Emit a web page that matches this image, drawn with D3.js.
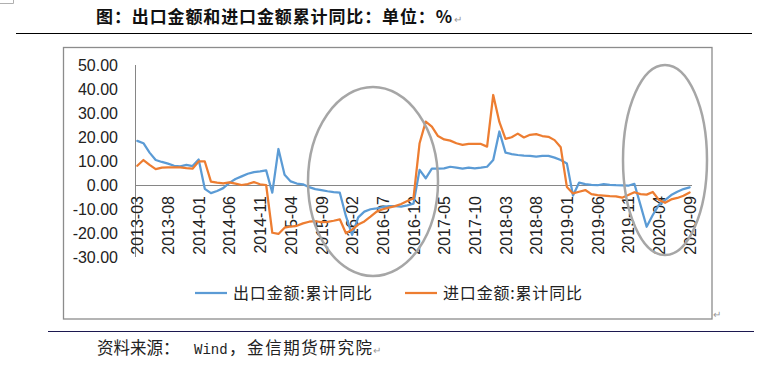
<!DOCTYPE html>
<html>
<head>
<meta charset="utf-8">
<script src="https://cdn.jsdelivr.net/npm/d3@7"></script>
<style>
  html, body { margin: 0; padding: 0; background: #fff; }
  svg { display: block; }
</style>
</head>
<body>
<svg id="chart" width="757" height="367"></svg>
<script>
// ---------------- data ----------------
const months = [
  "2013-03","2013-04","2013-05","2013-06","2013-07","2013-08","2013-09","2013-10","2013-11","2013-12",
  "2014-01","2014-02","2014-03","2014-04","2014-05","2014-06","2014-07","2014-08","2014-09","2014-10","2014-11","2014-12",
  "2015-01","2015-02","2015-03","2015-04","2015-05","2015-06","2015-07","2015-08","2015-09","2015-10","2015-11","2015-12",
  "2016-01","2016-02","2016-03","2016-04","2016-05","2016-06","2016-07","2016-08","2016-09","2016-10","2016-11","2016-12",
  "2017-01","2017-02","2017-03","2017-04","2017-05","2017-06","2017-07","2017-08","2017-09","2017-10","2017-11","2017-12",
  "2018-01","2018-02","2018-03","2018-04","2018-05","2018-06","2018-07","2018-08","2018-09","2018-10","2018-11","2018-12",
  "2019-01","2019-02","2019-03","2019-04","2019-05","2019-06","2019-07","2019-08","2019-09","2019-10","2019-11","2019-12",
  "2020-01","2020-02","2020-03","2020-04","2020-05","2020-06","2020-07","2020-08","2020-09"
];

const tickLabels = ["2013-03","2013-08","2014-01","2014-06","2014-11","2015-04","2015-09","2016-02",
  "2016-07","2016-12","2017-05","2017-10","2018-03","2018-08","2019-01","2019-06","2019-11","2020-04","2020-09"];

const yTicks = [50, 40, 30, 20, 10, 0, -10, -20, -30];

// 出口金额:累计同比
const exportYoY = [
  18.4, 17.4, 13.5, 10.4, 9.6, 8.9, 8.0, 7.8, 8.4, 7.9,
  10.6, -1.6, -3.4, -2.5, -1.3, 0.9, 2.5, 3.6, 4.7, 5.4, 5.7, 6.1,
  -3.2, 15.0, 4.3, 1.5, 0.6, 0.3, -0.9, -1.7, -2.1, -2.6, -3.0, -3.2,
  -13.0, -20.8, -13.5, -11.1, -10.1, -9.7, -9.2, -8.8, -8.8, -9.0, -8.5, -7.8,
  6.3, 2.8, 6.8, 6.8, 6.9, 7.6, 7.2, 6.8, 7.2, 6.9, 7.2, 7.6,
  10.4, 22.3, 13.5, 12.9, 12.5, 12.2, 12.1, 11.8, 12.1, 12.1, 11.4, 10.4,
  9.0, -4.4, 1.0, 0.4, 0.1, -0.1, 0.4, 0.1, -0.1, -0.2, -0.3, 0.5,
  -8.4, -17.4, -12.5, -8.3, -6.3, -4.2, -2.8, -1.7, -1.0
];

// 进口金额:累计同比
const importYoY = [
  8.0, 10.4, 8.4, 6.6, 7.2, 7.3, 7.3, 7.3, 7.0, 6.8,
  9.8, 9.8, 1.4, 1.0, 0.7, 1.1, 0.6, 0.0, 0.4, 1.2, 0.3, 0.0,
  -19.9, -20.4, -17.8, -17.3, -17.0, -16.0, -15.3, -15.1, -15.5, -15.4, -14.9, -14.3,
  -20.1, -18.6, -16.5, -15.2, -13.2, -11.1, -10.1, -9.4, -8.8, -7.9, -6.7, -5.6,
  17.4, 26.4, 24.3, 20.4, 19.0, 18.5, 17.4, 16.7, 17.1, 17.1, 17.1, 16.0,
  37.5, 26.3, 19.2, 19.9, 21.4, 19.8, 20.9, 21.2, 20.4, 20.1, 18.7, 15.7,
  -0.8, -3.5, -2.8, -2.1, -3.8, -4.2, -4.4, -4.6, -4.7, -5.3, -4.2, -3.0,
  -3.8, -4.0, -2.9, -6.2, -7.4, -6.0, -5.4, -4.5, -3.1
];

const seriesNames = ["出口金额:累计同比", "进口金额:累计同比"];
const seriesColors = ["#5b9bd5", "#ed7d31"];

// ---------------- drawing ----------------
const svg = d3.select("#chart");
svg.append("rect").attr("width", 757).attr("height", 367).attr("fill", "#fff");

const cjk = "'Noto Sans CJK SC', 'Noto Sans', sans-serif";
const latin = "'Liberation Sans', Arial, sans-serif";

// tiny corner mark
svg.append("path").attr("d", "M0,3.5H13.5V0").attr("fill", "none")
  .attr("stroke", "#b0b0b0").attr("stroke-width", 1);

// title
svg.append("text")
  .attr("x", 96).attr("y", 23)
  .attr("font-family", cjk).attr("font-weight", 700).attr("font-size", 17)
  .attr("fill", "#111")
  .attr("textLength", 356).attr("lengthAdjust", "spacing")
  .text("图：出口金额和进口金额累计同比：单位：%");
svg.append("text").attr("x", 454).attr("y", 23)
  .attr("font-family", cjk).attr("font-size", 10).attr("fill", "#999").text("↵");

// title rule
svg.append("line").attr("x1", 16).attr("x2", 752).attr("y1", 33.5).attr("y2", 33.5)
  .attr("stroke", "#000").attr("stroke-width", 1.2);

// chart frame
svg.append("rect").attr("x", 63.5).attr("y", 47.5).attr("width", 648.5).attr("height", 271.5)
  .attr("fill", "none").attr("stroke", "#8c8c8c").attr("stroke-width", 1.3);
svg.append("text").attr("x", 713).attr("y", 318)
  .attr("font-family", cjk).attr("font-size", 10).attr("fill", "#999").text("↵");

// scales
const x = d3.scalePoint().domain(months).range([137.3, 689.6]);
const y = d3.scaleLinear().domain([-30, 50]).range([257, 65]);

// y axis
const yAxis = svg.append("g").attr("transform", "translate(135,0)")
  .call(d3.axisLeft(y).tickValues(yTicks).tickSize(0).tickPadding(17)
    .tickFormat(d => d.toFixed(2)));
yAxis.select(".domain").remove();
yAxis.selectAll("text").attr("font-family", latin).attr("font-size", 16).attr("fill", "#222");
svg.append("line").attr("x1", 135.5).attr("x2", 135.5).attr("y1", y(50)).attr("y2", y(-30))
  .attr("stroke", "#868686").attr("stroke-width", 1);

// zero line
svg.append("line").attr("x1", 135).attr("x2", 692).attr("y1", y(0) + 0.5).attr("y2", y(0) + 0.5)
  .attr("stroke", "#868686").attr("stroke-width", 1);

// x axis labels (rotated)
const xAxis = svg.append("g").attr("transform", `translate(0,${y(0)})`)
  .call(d3.axisBottom(x).tickValues(tickLabels).tickSize(0));
xAxis.select(".domain").remove();
xAxis.selectAll("text")
  .attr("font-family", latin).attr("font-size", 16).attr("fill", "#222")
  .attr("transform", "rotate(-90)")
  .attr("text-anchor", "end")
  .attr("x", -11).attr("y", 0).attr("dy", "0.35em");

// lines
const lineGen = d3.line().x((d, i) => x(months[i])).y(d => y(d));
[exportYoY, importYoY].forEach((vals, k) => {
  svg.append("path").datum(vals)
    .attr("d", lineGen)
    .attr("fill", "none")
    .attr("stroke", seriesColors[k])
    .attr("stroke-width", 2.25)
    .attr("stroke-linejoin", "round")
    .attr("stroke-linecap", "round");
});

// highlight ellipses
svg.append("ellipse").attr("cx", 373).attr("cy", 181.5).attr("rx", 65).attr("ry", 94.5)
  .attr("fill", "none").attr("stroke", "#a6a6a6").attr("stroke-width", 2.5);
svg.append("ellipse").attr("cx", 665).attr("cy", 160).attr("rx", 42).attr("ry", 95)
  .attr("fill", "none").attr("stroke", "#a6a6a6").attr("stroke-width", 2.5);

// legend
const legendX = [195, 405];
seriesNames.forEach((name, k) => {
  svg.append("line").attr("x1", legendX[k]).attr("x2", legendX[k] + 32)
    .attr("y1", 293).attr("y2", 293)
    .attr("stroke", seriesColors[k]).attr("stroke-width", 2.25);
  svg.append("text").attr("x", legendX[k] + 38).attr("y", 293).attr("dy", "0.36em")
    .attr("font-family", cjk).attr("font-size", 16).attr("fill", "#222")
    .attr("textLength", 139).attr("lengthAdjust", "spacing")
    .text(name);
});

// bottom rule
svg.append("line").attr("x1", 48).attr("x2", 754).attr("y1", 331.5).attr("y2", 331.5)
  .attr("stroke", "#1c1850").attr("stroke-width", 1.2);

// source
svg.append("text").attr("x", 97).attr("y", 354)
  .attr("font-family", cjk).attr("font-size", 16.5).attr("fill", "#222")
  .text("资料来源：");
svg.append("text").attr("x", 194).attr("y", 354)
  .attr("font-family", "'Liberation Mono', monospace").attr("font-size", 14).attr("fill", "#222")
  .text("Wind");
svg.append("text").attr("x", 229).attr("y", 354)
  .attr("font-family", cjk).attr("font-size", 16.5).attr("fill", "#222")
  .attr("textLength", 143).attr("lengthAdjust", "spacing")
  .text("，金信期货研究院");
svg.append("text").attr("x", 373).attr("y", 354)
  .attr("font-family", cjk).attr("font-size", 10).attr("fill", "#999").text("↵");
</script>
</body>
</html>
